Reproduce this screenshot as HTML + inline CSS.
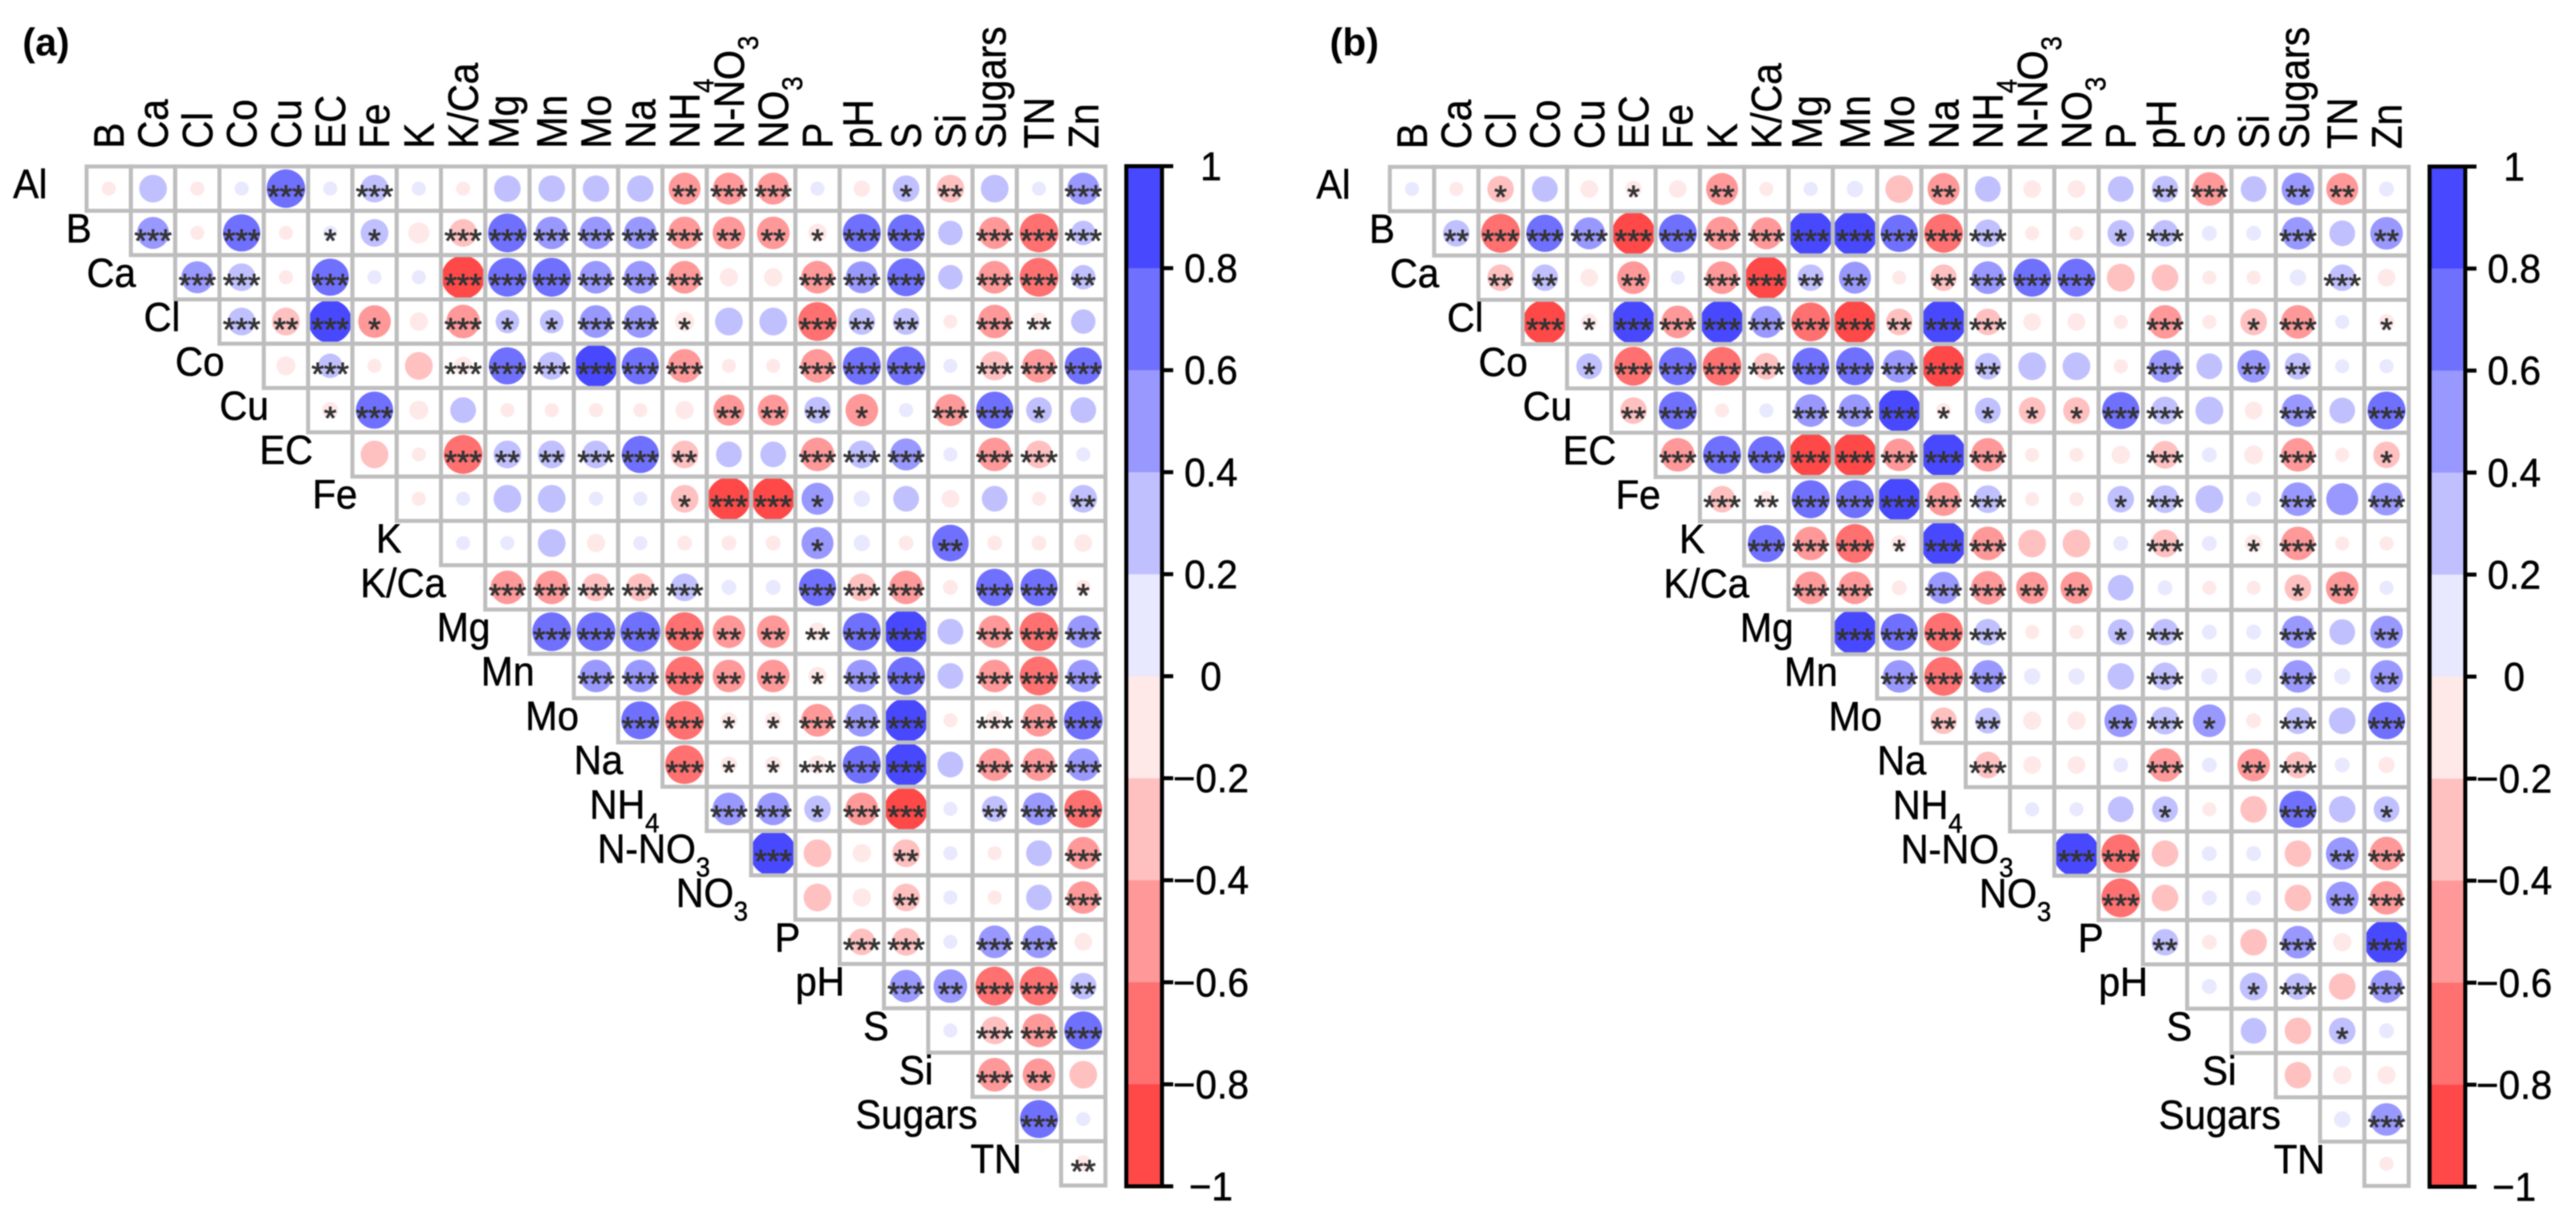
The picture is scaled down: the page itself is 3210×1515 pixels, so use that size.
<!DOCTYPE html>
<html lang="en">
<head>
<meta charset="utf-8">
<title>Correlation matrices (a) and (b)</title>
<style>
html,body{margin:0;padding:0;background:#fff;}
svg{display:block;filter:blur(0.7px);}
text{font-family:"Liberation Sans",Arial,sans-serif;}
</style>
</head>
<body>
<svg id="chart" xmlns="http://www.w3.org/2000/svg" width="3210" height="1515" viewBox="0 0 3210 1515">
<rect x="0" y="0" width="3210" height="1515" fill="#ffffff"/>
<text x="28" y="69" font-size="48" font-weight="bold">(a)</text>
<text x="1657" y="69" font-size="48" font-weight="bold">(b)</text>
</svg>
<script>
const categories = ["Al","B","Ca","Cl","Co","Cu","EC","Fe","K","K/Ca","Mg","Mn","Mo","Na","NH4","N-NO3","NO3","P","pH","S","Si","Sugars","TN","Zn"];
const colorbarTicks = [1,0.8,0.6,0.4,0.2,0,-0.2,-0.4,-0.6,-0.8,-1];

const valuesA = [
[-.07,.33,-.07,.07,.67,.07,.33,.07,-.07,.3,.3,.3,.3,-.45,-.45,-.45,.07,-.1,.3,-.33,.33,.07,.45],
[.45,-.07,.62,-.07,.07,.33,-.18,-.33,.68,.47,.47,.47,-.47,-.47,-.47,-.13,.65,.62,.25,-.45,-.68,.25],
[.45,.33,-.07,.62,.07,.07,-.85,.68,.68,.47,.47,-.47,-.13,-.13,-.47,.45,.65,.25,-.47,-.68,.25],
[.33,-.33,.85,-.47,-.13,-.5,.23,.23,.47,.47,-.15,.33,.33,-.68,.3,.3,-.07,-.5,-.12,.25],
[-.14,.25,-.07,-.33,-.13,.62,.33,.85,.62,-.5,-.07,-.07,-.5,.65,.68,.07,-.37,-.5,.62],
[-.1,.62,-.14,.28,-.07,-.07,-.07,-.07,-.13,-.42,-.42,.3,-.47,.07,-.45,.62,.28,.28],
[-.33,-.07,-.68,.33,.33,.33,.62,-.33,.28,.28,-.5,.33,.45,.07,-.5,-.33,.07],
[-.07,.07,.33,.33,.07,.07,-.33,-.85,-.85,.45,.1,.28,-.12,.28,-.07,.33],
[.07,.07,.33,-.13,.07,-.08,-.08,-.08,.45,.1,-.08,.6,-.08,-.08,-.12],
[-.5,-.5,-.33,-.33,.33,.08,.08,.62,-.33,-.5,-.08,.62,.62,-.08],
[.68,.68,.72,-.68,-.47,-.47,-.13,.65,.9,.28,-.47,-.68,.47],
[.47,.47,-.68,-.47,-.47,-.13,.47,.65,.28,-.47,-.68,.47],
[.65,-.68,-.1,-.1,-.47,.47,.88,-.07,-.14,-.47,.68],
[-.68,-.1,-.1,-.13,.65,.88,.28,-.47,-.47,.47],
[.47,.47,.3,-.47,-.85,.07,.28,.47,-.65],
[.98,-.33,-.13,-.33,.07,-.07,.28,-.47],
[-.33,-.13,-.33,.07,-.07,.28,-.47],
[-.3,-.33,.07,.47,.47,-.12],
[.47,.5,-.68,-.68,.3],
[.07,-.33,-.5,.65],
[-.5,-.47,-.33],
[.65,.07],
[-.1]
];

const starsA = [
[0,0,0,0,3,0,3,0,0,0,0,0,0,2,3,3,0,0,1,2,0,0,3],
[3,0,3,0,1,1,0,3,3,3,3,3,3,2,2,1,3,3,0,3,3,3],
[3,3,0,3,0,0,3,3,3,3,3,3,0,0,3,3,3,0,3,3,2],
[3,2,3,1,0,3,1,1,3,3,1,0,0,3,2,2,0,3,2,0],
[0,3,0,0,3,3,3,3,3,3,0,0,3,3,3,0,3,3,3],
[1,3,0,0,0,0,0,0,0,2,2,2,1,0,3,3,1,0],
[0,0,3,2,2,3,3,2,0,0,3,3,3,0,3,3,0],
[0,0,0,0,0,0,1,3,3,1,0,0,0,0,0,2],
[0,0,0,0,0,0,0,0,1,0,0,2,0,0,0],
[3,3,3,3,3,0,0,3,3,3,0,3,3,1],
[3,3,3,3,2,2,2,3,3,0,3,3,3],
[3,3,3,2,2,1,3,3,0,3,3,3],
[3,3,1,1,3,3,3,0,3,3,3],
[3,1,1,3,3,3,0,3,3,3],
[3,3,1,3,3,0,2,3,3],
[3,0,0,2,0,0,0,3],
[0,0,2,0,0,0,3],
[3,3,0,3,3,0],
[3,2,3,3,2],
[0,3,3,3],
[3,2,0],
[3,0],
[2]
];

const valuesB = [
[.07,-.07,-.3,.28,-.12,-.1,-.12,-.45,-.07,.07,.1,-.33,-.45,.28,-.12,-.12,.28,.3,-.5,.28,.47,-.45,.08],
[.3,-.68,.62,.45,-.85,.65,-.5,-.45,.95,.95,.62,-.68,.33,-.07,-.07,.3,.3,.08,.08,.47,.28,.47],
[-.3,.3,-.12,-.47,.07,-.47,-.85,.3,.45,-.07,-.3,.47,.65,.65,-.33,-.3,-.07,-.07,.1,.3,-.12],
[-.88,-.1,.88,-.47,.88,.45,-.68,-.85,-.3,.95,-.3,-.12,-.12,-.07,-.5,-.07,-.3,-.5,.07,-.09],
[.28,-.68,.65,-.68,-.3,.62,.65,.47,-.85,.3,.33,.33,-.07,.47,.28,.47,.3,.07,.07],
[-.3,.65,-.07,.07,.47,.47,.85,-.08,.28,-.3,-.3,.62,.33,.33,-.12,.47,.28,.65],
[-.5,.65,.62,-.88,-.88,-.47,.95,-.5,-.07,-.07,-.13,-.33,.08,-.14,-.5,-.07,-.3],
[-.3,-.1,.65,.65,.88,-.5,.33,-.07,-.07,.3,.33,.33,.08,.5,.45,.47],
[.62,-.5,-.68,-.1,.95,-.5,-.33,-.33,.08,-.33,.08,-.12,-.5,-.07,-.07],
[-.47,-.47,-.08,.45,-.5,-.45,-.45,.28,.08,-.07,-.07,-.3,-.47,.07],
[.95,.62,-.68,.3,-.07,-.07,.28,.3,.08,.08,.47,.28,.47],
[.47,-.68,.47,.1,.1,.3,.33,.1,.1,.47,.1,.47],
[-.3,.28,-.13,-.13,.47,.33,.47,-.08,.3,.3,.62],
[-.3,-.12,-.12,.08,-.5,.08,-.47,-.3,.08,-.1],
[.07,.07,.28,.28,-.07,-.3,.62,.3,.28],
[.98,-.68,-.3,.08,.08,-.3,.47,-.5],
[-.68,-.3,.08,.08,-.3,.47,-.5],
[.3,-.08,-.3,.47,-.13,.9],
[.08,.33,.3,-.3,.47],
[.28,-.3,.3,.08],
[-.3,-.13,-.13],
[.1,.47],
[-.07]
];

const starsB = [
[0,0,1,0,0,1,0,2,0,0,0,0,2,0,0,0,0,2,3,0,2,2,0],
[2,3,3,3,3,3,3,3,3,3,3,3,3,0,0,1,3,0,0,3,0,2],
[2,2,0,2,0,3,3,2,2,0,2,3,3,3,0,0,0,0,0,3,0],
[3,1,3,3,3,3,3,3,2,3,3,0,0,0,3,0,1,3,0,1],
[1,3,3,3,3,3,3,3,3,2,0,0,0,3,0,2,2,0,0],
[2,3,0,0,3,3,3,1,1,1,1,3,3,0,0,3,0,3],
[3,3,3,3,3,3,3,3,0,0,0,3,0,0,3,0,1],
[3,2,3,3,3,3,3,0,0,1,3,0,0,3,0,3],
[3,3,3,1,3,3,0,0,0,3,0,1,3,0,0],
[3,3,0,3,3,2,2,0,0,0,0,1,2,0],
[3,3,3,3,0,0,1,3,0,0,3,0,2],
[3,3,3,0,0,0,3,0,0,3,0,2],
[2,2,0,0,2,3,1,0,3,0,3],
[3,0,0,0,3,0,2,3,0,0],
[0,0,0,1,0,0,3,0,1],
[3,3,0,0,0,0,2,3],
[3,0,0,0,0,2,3],
[2,0,0,3,0,3],
[0,1,3,0,3],
[0,0,1,0],
[0,0,0],
[0,3],
[0]
];

const bandColors = ["#ff4848","#ff7070","#ff9898","#ffc0c0","#ffe8e8","#e8e8ff","#c0c0ff","#9898ff","#7070ff","#4848ff"];

const NS = "http://www.w3.org/2000/svg";
const svg = document.getElementById("chart");
const CELL = 55.2;

function xScale(col, dx){ return 135.5 + dx + CELL * col; }
function yScale(row, dy){ return 235 + dy + CELL * row; }
function barScale(v, dy){ return 207 + dy + (1 - v) / 2 * 1271; }
function sizeScale(r){ return (3 + 55 * Math.sqrt(Math.abs(r))) / 2; }
function colorScale(r){
  const i = Math.min(9, Math.max(0, Math.floor((r + 1) / 0.2)));
  return bandColors[i];
}
function make(tag, attrs, parent){
  const el = document.createElementNS(NS, tag);
  for (const k in attrs) el.setAttribute(k, attrs[k]);
  parent.appendChild(el);
  return el;
}
function writeLabel(el, label, subSize, subShift){
  const m = label.match(/^(.*?)(\d)$/);
  if (!m) { el.textContent = label; return; }
  const a = document.createElementNS(NS, "tspan");
  a.textContent = m[1];
  el.appendChild(a);
  const b = document.createElementNS(NS, "tspan");
  b.setAttribute("font-size", subSize);
  b.setAttribute("dy", subShift);
  b.textContent = m[2];
  el.appendChild(b);
}

function drawPanel(panel, values, stars, dx, dy){
  const g = make("g", {}, svg);
  
  

  // circles
  values.forEach(function(row, i){
    row.forEach(function(r, k){
      const col = i + k;
      const c = make("circle", {cx: xScale(col, dx), cy: yScale(i, dy), r: sizeScale(r), fill: colorScale(r)}, g);
      
      
    });
  });
  // grid on top of circles
  values.forEach(function(row, i){
    row.forEach(function(r, k){
      const col = i + k;
      const cell = make("rect", {x: xScale(col, dx) - CELL / 2, y: yScale(i, dy) - CELL / 2, width: CELL, height: CELL, fill: "none", stroke: "#bebebe", "stroke-width": 5}, g);
      
      
    });
  });
  // significance stars
  stars.forEach(function(row, i){
    row.forEach(function(n, k){
      if (!n) return;
      const col = i + k;
      const t = make("text", {x: xScale(col, dx), y: yScale(i, dy) + 23.5, "font-size": 40, "text-anchor": "middle", fill: "#333333", stroke: "#333333", "stroke-width": 0.9}, g);
      
      
      t.textContent = "*".repeat(n);
    });
  });
  // column labels
  categories.slice(1).forEach(function(label, col){
    const off = /[gp]/.test(label) ? 13.5 : 18.5;
    const x = xScale(col, dx) + off;
    const y = 185 + dy;
    const t = make("text", {x: 0, y: 0, "font-size": 48, stroke: "#000000", "stroke-width": 0.5, transform: "translate(" + x + " " + y + ") rotate(-90) scale(1 1.1)"}, g);
    
    
    writeLabel(t, label, 32, 16);
  });
  // row labels
  categories.slice(0, -1).forEach(function(label, row){
    const subShift = label === "N-NO3" ? -2 : (/\d$/.test(label) ? -10 : 0);
    const x = xScale(row, dx) - CELL / 2 - 49 + subShift;
    const y = yScale(row, dy) + 12;
    const t = make("text", {x: 0, y: 0, "font-size": 48, "text-anchor": "end", stroke: "#000000", "stroke-width": 0.5, transform: "translate(" + x + " " + y + ") scale(1 1.06)"}, g);
    
    
    writeLabel(t, label, 32, 16);
  });
  // colour bar
  const left = 1403.5 + dx, right = 1448 + dx;
  const bar = make("g", {}, svg);
  
  
  for (let i = 0; i < colorbarTicks.length - 1; i++) {
    const y0 = barScale(colorbarTicks[i], dy), y1 = barScale(colorbarTicks[i + 1], dy);
    const b = make("rect", {x: left, y: y0, width: right - left, height: y1 - y0 + 0.5, fill: colorScale((colorbarTicks[i] + colorbarTicks[i + 1]) / 2)}, bar);
    
    
  }
  const frame = make("rect", {x: left, y: barScale(1, dy), width: right - left, height: barScale(-1, dy) - barScale(1, dy), fill: "none", stroke: "#000000", "stroke-width": 5}, bar);
  
  
  colorbarTicks.forEach(function(v){
    const y = barScale(v, dy);
    const tick = make("line", {x1: right, x2: 1462 + dx, y1: y, y2: y, stroke: "#000000", "stroke-width": 5}, bar);
    
    
    const t = make("text", {x: 0, y: 0, "font-size": 48, "text-anchor": "middle", stroke: "#000000", "stroke-width": 0.5, transform: "translate(" + (1509 + dx) + " " + (y + 17.5) + ") scale(1 1.05)"}, bar);
    
    
    t.textContent = String(Math.abs(v));
    if (v < 0) t.textContent = "\u2212" + t.textContent;
  });
}

drawPanel("a", valuesA, starsA, 0, 0);
drawPanel("b", valuesB, starsB, 1624, 0.5);
</script>
</body>
</html>
